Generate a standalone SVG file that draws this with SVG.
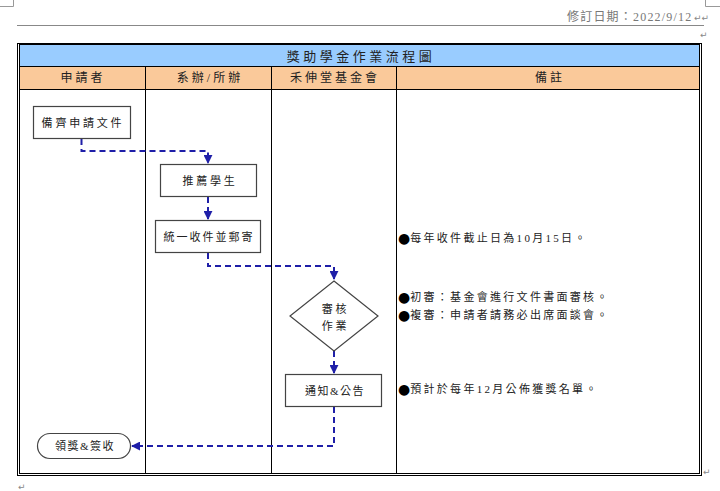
<svg xmlns="http://www.w3.org/2000/svg" width="720" height="491" viewBox="0 0 720 491">
<style>
text{font-family:"Liberation Serif","Noto Sans CJK TC",serif;fill:#222}
.c{text-anchor:middle;dominant-baseline:central}
.lbl{font-size:11px;letter-spacing:2.8px}
.hd{font-size:12px;letter-spacing:3px}
.note{font-size:11px;letter-spacing:2.3px;dominant-baseline:central}
.bul{font-family:"DejaVu Sans",sans-serif;font-size:14px;fill:#000;letter-spacing:0}
.box{fill:#fff;stroke:#444;stroke-width:1.2}
.grid{stroke:#000;stroke-width:1;fill:none}
.flow{fill:none;stroke:#1f1fa8;stroke-width:2;stroke-dasharray:6 4}
.pm{font-family:"DejaVu Sans",sans-serif;font-size:9px;fill:#888}
</style>
<defs>
<marker id="ah" viewBox="0 0 10 10" refX="9" refY="5" markerWidth="4.5" markerHeight="4.5" orient="auto" markerUnits="strokeWidth">
<path d="M0,0 L10,5 L0,10 z" fill="#1f1fa8"/>
</marker>
</defs>
<rect width="720" height="491" fill="#fff"/>
<!-- page marks -->
<g stroke="#999" stroke-width="1" fill="none">
<path d="M0,6.5 H13.5 V0"/>
<path d="M720,6.5 H705.5 V0"/>
</g>
<line x1="17" y1="25.5" x2="704" y2="25.5" stroke="#888" stroke-width="1"/>
<text x="567" y="21" style="font-size:12px;fill:#777;letter-spacing:1.2px">修訂日期：2022/9/12</text>
<text x="694" y="21" class="pm">↵↵</text>
<text x="700" y="38" class="pm">↵</text>
<text x="18" y="490" class="pm">↵</text>
<text x="703" y="475" class="pm">↵</text>
<!-- table -->
<g id="table">
<rect x="19" y="44" width="680" height="22" fill="#99ccff"/>
<rect x="19" y="66" width="680" height="23" fill="#fac99a"/>
<rect x="17.5" y="43.5" width="684" height="432" class="grid" stroke-width="1"/>
<rect x="19.5" y="44.5" width="680" height="429" class="grid" stroke-width="1.5"/>
<line x1="19" y1="66.5" x2="700" y2="66.5" class="grid"/>
<line x1="19" y1="89.5" x2="700" y2="89.5" class="grid"/>
<line x1="145.5" y1="66" x2="145.5" y2="474" class="grid"/>
<line x1="271.5" y1="66" x2="271.5" y2="474" class="grid"/>
<line x1="396.5" y1="66" x2="396.5" y2="474" class="grid"/>
<text x="361" y="56" class="c" style="font-size:13px;letter-spacing:3.5px">獎助學金作業流程圖</text>
<text x="83" y="78" class="c hd">申請者</text>
<text x="210" y="78" class="c hd">系辦/所辦</text>
<text x="335" y="78" class="c hd">禾伸堂基金會</text>
<text x="550" y="78" class="c hd">備註</text>
</g>
<!-- connectors -->
<g id="connectors">
<path class="flow" d="M81.5,139 V151 H208 V163" marker-end="url(#ah)"/>
<path class="flow" d="M208,197 V219" marker-end="url(#ah)"/>
<path class="flow" d="M208,253 V266 H334 V279" marker-end="url(#ah)"/>
<path class="flow" d="M334,351 V373" marker-end="url(#ah)"/>
<path class="flow" d="M334,407 V446 H132" marker-end="url(#ah)"/>
</g>
<!-- nodes -->
<g id="n1"><rect class="box" x="33.5" y="106.5" width="97" height="32"/><text x="83" y="122.5" class="c lbl">備齊申請文件</text></g>
<g id="n2"><rect class="box" x="160.5" y="164.5" width="96" height="32"/><text x="210" y="180.5" class="c lbl">推薦學生</text></g>
<g id="n3"><rect class="box" x="155.5" y="220.5" width="105" height="32"/><text x="209" y="236.5" class="c" style="font-size:11px;letter-spacing:2px">統一收件並郵寄</text></g>
<g id="n4"><path class="box" d="M334,281 L378,316 L334,351 L290,316 Z"/><text x="335.5" y="308.5" class="c lbl">審核</text><text x="335.5" y="325.5" class="c lbl">作業</text></g>
<g id="n5"><rect class="box" x="285.5" y="374.5" width="96" height="32"/><text x="335" y="390.5" class="c" style="font-size:11px;letter-spacing:1.5px">通知&amp;公告</text></g>
<g id="n6"><rect class="box" x="37.5" y="433.5" width="93" height="25" rx="12.5"/><text x="85" y="446" class="c" style="font-size:11px;letter-spacing:1.5px">領獎&amp;簽收</text></g>
<!-- notes -->
<g id="notes">
<text x="398" y="238" class="note"><tspan class="bul">●</tspan>每年收件截止日為10月15日。</text>
<text x="398" y="297" class="note"><tspan class="bul">●</tspan>初審：基金會進行文件書面審核。</text>
<text x="398" y="315" class="note"><tspan class="bul">●</tspan>複審：申請者請務必出席面談會。</text>
<text x="398" y="389" class="note"><tspan class="bul">●</tspan>預計於每年12月公佈獲獎名單。</text>
</g>
</svg>
